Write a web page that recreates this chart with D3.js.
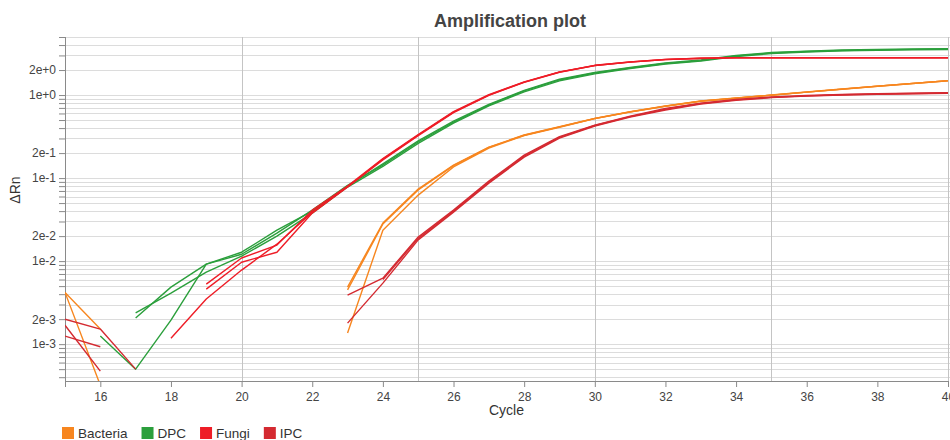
<!DOCTYPE html>
<html>
<head>
<meta charset="utf-8">
<script src="https://cdn.jsdelivr.net/npm/d3@7"></script>
<style>
	body { margin: 0; background: #fff; }
	svg text { font-family: "Liberation Sans", Arial, sans-serif; fill: #333; }
	.grid-h line { stroke: #dcdcdc; stroke-width: 1; }
	.grid-v line { stroke: #c4c4c4; stroke-width: 1; }
	.axis path, .axis line { stroke: #8a8a8a; }
	.axis text { font-size: 12px; fill: #444; }
	.curve { fill: none; stroke-width: 1.4; stroke-linejoin: round; }
</style>
</head>
<body>
<div id="chart"></div>
<script>

	const cycles = [15, 16, 17, 18, 19, 20, 21, 22, 23, 24, 25, 26, 27, 28, 29, 30, 31, 32, 33, 34, 35, 36, 37, 38, 39, 40];

	// ΔRn per cycle, null where the instrument gave no positive value
	const bacteria1 = [4.2e-3, 1.52e-3, null, null, null, null, null, null, 4.86e-3, 2.87e-2, 7.37e-2, 0.143, 0.236, 0.330, 0.415, 0.524, 0.629, 0.737, 0.847, 0.920, 1.00, 1.087, 1.18, 1.28, 1.38, 1.49];
	const bacteria2 = [4.2e-3, 3.2e-4, null, null, null, null, null, null, 1.36e-3, 2.36e-2, 6.24e-2, 0.136, 0.230, 0.325, 0.410, 0.520, 0.625, 0.733, 0.843, 0.916, 0.996, 1.083, 1.175, 1.275, 1.375, 1.485];
	const bacteria3 = [null, null, null, null, null, null, null, null, 4.5e-3, 2.8e-2, 7.2e-2, 0.141, 0.234, 0.328, 0.413, 0.522, 0.627, 0.735, 0.845, 0.918, 0.998, 1.085, 1.178, 1.278, 1.378, 1.488];

	const dpc1 = [null, 1.25e-3, 5.0e-4, 1.95e-3, 9.2e-3, 1.21e-2, 2.17e-2, 4.11e-2, 8.2e-2, 0.143, 0.272, 0.473, 0.758, 1.12, 1.52, 1.84, 2.12, 2.40, 2.60, 2.95, 3.21, 3.34, 3.44, 3.50, 3.55, 3.58];
	const dpc2 = [null, null, 2.38e-3, 4.11e-3, 7.37e-3, 1.15e-2, 2.0e-2, 3.79e-2, 7.8e-2, 0.138, 0.262, 0.460, 0.740, 1.09, 1.48, 1.80, 2.08, 2.36, 2.56, 2.90, 3.16, 3.30, 3.40, 3.46, 3.51, 3.54];
	const dpc3 = [null, null, 2.06e-3, 4.86e-3, 9.2e-3, 1.28e-2, 2.36e-2, 4.0e-2, 8.0e-2, 0.148, 0.280, 0.485, 0.770, 1.14, 1.55, 1.87, 2.15, 2.44, 2.64, 2.99, 3.25, 3.38, 3.48, 3.54, 3.59, 3.62];

	const fungi1 = [null, null, null, 1.18e-3, 3.49e-3, 7.8e-3, 1.6e-2, 3.89e-2, 7.8e-2, 0.169, 0.330, 0.624, 1.00, 1.43, 1.89, 2.27, 2.50, 2.68, 2.77, 2.81, 2.81, 2.81, 2.81, 2.81, 2.81, 2.81];
	const fungi2 = [null, null, null, null, 4.6e-3, 9.7e-3, 1.28e-2, 3.79e-2, 7.8e-2, 0.165, 0.325, 0.615, 0.990, 1.42, 1.88, 2.26, 2.49, 2.67, 2.76, 2.80, 2.80, 2.80, 2.80, 2.80, 2.80, 2.80];
	const fungi3 = [null, null, null, null, 5.28e-3, 1.09e-2, 1.56e-2, 4.11e-2, 8.0e-2, 0.172, 0.335, 0.630, 1.01, 1.44, 1.90, 2.28, 2.51, 2.69, 2.78, 2.82, 2.82, 2.82, 2.82, 2.82, 2.82, 2.82];

	const ipc1 = [2.0e-3, 1.52e-3, 5.0e-4, null, null, null, null, null, 3.89e-3, 6.24e-3, 1.95e-2, 4.11e-2, 9.2e-2, 0.189, 0.315, 0.435, 0.558, 0.691, 0.800, 0.883, 0.946, 0.986, 1.014, 1.036, 1.050, 1.066];
	const ipc2 = [1.69e-3, 4.73e-4, null, null, null, null, null, null, 1.79e-3, 5.43e-3, 1.8e-2, 3.89e-2, 8.7e-2, 0.179, 0.303, 0.423, 0.543, 0.660, 0.780, 0.865, 0.930, 0.970, 1.000, 1.020, 1.035, 1.050];
	const ipc3 = [1.25e-3, 9.3e-4, null, null, null, null, null, null, null, 6.0e-3, 1.88e-2, 4.0e-2, 8.9e-2, 0.184, 0.309, 0.430, 0.550, 0.675, 0.790, 0.874, 0.938, 0.978, 1.007, 1.028, 1.043, 1.058];

	const targets = ["Bacteria", "DPC", "Fungi", "IPC"];
	const curves = [
		{ target: "Bacteria", values: bacteria1 },
		{ target: "Bacteria", values: bacteria2 },
		{ target: "Bacteria", values: bacteria3 },
		{ target: "DPC", values: dpc1 },
		{ target: "DPC", values: dpc2 },
		{ target: "DPC", values: dpc3 },
		{ target: "Fungi", values: fungi1 },
		{ target: "Fungi", values: fungi2 },
		{ target: "Fungi", values: fungi3 },
		{ target: "IPC", values: ipc1 },
		{ target: "IPC", values: ipc2 },
		{ target: "IPC", values: ipc3 }
	];

	const xDomain = [15, 40];
	const yDomain = [3.6e-4, 5];
	const xTicks = [16, 18, 20, 22, 24, 26, 28, 30, 32, 34, 36, 38, 40];
	const xGrid = [20, 25, 30, 35, 40];
	const decades = [1e-4, 1e-3, 1e-2, 1e-1, 1];
	const labelledSteps = [1, 2];

	const width = 950;
	const height = 440;
	const margin = { top: 37, right: 2, bottom: 59, left: 65 };

	const color = d3.scaleOrdinal()
						.domain(targets)
						.range(["#f7861f", "#2b9f3c", "#ee1d27", "#d42a31"]);

	const x = d3.scaleLinear()
					.domain(xDomain)
					.range([margin.left, width - margin.right]);

	const y = d3.scaleLog()
					.domain(yDomain)
					.range([height - margin.bottom, margin.top]);

	// every 1..9 step of each decade that falls inside the domain
	const yTicks = decades
					.flatMap((d) => d3.range(1, 10).map((k) => k * d))
					.filter((v) => v >= yDomain[0] && v <= yDomain[1] * 1.0001);

	const svg = d3.select("#chart")
					.append("svg")
						.attr("width", width)
						.attr("height", height);

	svg.append("defs")
		.append("clipPath")
			.attr("id", "plot-clip")
		.append("rect")
			.attr("x", margin.left)
			.attr("y", margin.top)
			.attr("width", width - margin.left - margin.right)
			.attr("height", height - margin.top - margin.bottom);

	svg.append("g")
		.attr("class", "grid-h")
		.selectAll("line")
			.data(yTicks).enter()
		.append("line")
			.attr("x1", margin.left)
			.attr("x2", width)
			.attr("y1", (d) => Math.round(y(d)) + 0.5)
			.attr("y2", (d) => Math.round(y(d)) + 0.5);

	svg.append("g")
		.attr("class", "grid-v")
		.selectAll("line")
			.data(xGrid).enter()
		.append("line")
			.attr("x1", (d) => Math.round(x(d)) + 0.5)
			.attr("x2", (d) => Math.round(x(d)) + 0.5)
			.attr("y1", margin.top)
			.attr("y2", height - margin.bottom);

	const yAxis = d3.axisLeft(y)
					.tickValues(yTicks)
					.tickSize(6)
					.tickFormat((d) => {
						const step = Math.round(d / Math.pow(10, Math.floor(Math.log10(d) + 1e-9)));
						return labelledSteps.includes(step) ? d3.format(".0e")(d) : "";
					});

	svg.append("g")
		.attr("class", "axis y-axis")
		.attr("transform", `translate(${margin.left},0)`)
		.call(yAxis)
		.call((g) => g.select(".domain").attr("d", `M0.5,${margin.top}V${height - margin.bottom + 6}`));

	const xAxis = d3.axisBottom(x)
					.tickValues(xTicks)
					.tickSize(6)
					.tickPadding(5)
					.tickFormat(d3.format("d"));

	svg.append("g")
		.attr("class", "axis x-axis")
		.attr("transform", `translate(0,${height - margin.bottom})`)
		.call(xAxis);

	const line = d3.line()
					.defined((d) => d != null)
					.x((d, i) => x(cycles[i]))
					.y((d) => y(d));

	svg.append("g")
		.attr("clip-path", "url(#plot-clip)")
		.selectAll("path")
			.data(curves).enter()
		.append("path")
			.attr("class", "curve")
			.attr("stroke", (d) => color(d.target))
			.attr("d", (d) => line(d.values));

	svg.append("text")
		.attr("x", 510)
		.attr("y", 27)
		.attr("text-anchor", "middle")
		.style("font-size", "18px")
		.style("font-weight", "bold")
		.style("fill", "#444")
		.text("Amplification plot");

	svg.append("text")
		.attr("x", (margin.left + width - margin.right) / 2)
		.attr("y", 415)
		.attr("text-anchor", "middle")
		.style("font-size", "14px")
		.text("Cycle");

	svg.append("text")
		.attr("transform", `translate(20, 190)rotate(-90)`)
		.attr("text-anchor", "middle")
		.style("font-size", "14px")
		.text("ΔRn");

	const legend = svg.append("g")
						.attr("class", "legend")
						.attr("transform", "translate(62, 427)");

	let offset = 0;
	targets.forEach((t) => {
		const item = legend.append("g").attr("transform", `translate(${offset},0)`);
		item.append("rect")
			.attr("width", 12)
			.attr("height", 12)
			.attr("fill", color(t));
		const label = item.append("text")
			.attr("x", 16)
			.attr("y", 11)
			.style("font-size", "13.5px")
			.text(t);
		offset += 16 + label.node().getComputedTextLength() + 14;
	});

</script>
</body>
</html>
